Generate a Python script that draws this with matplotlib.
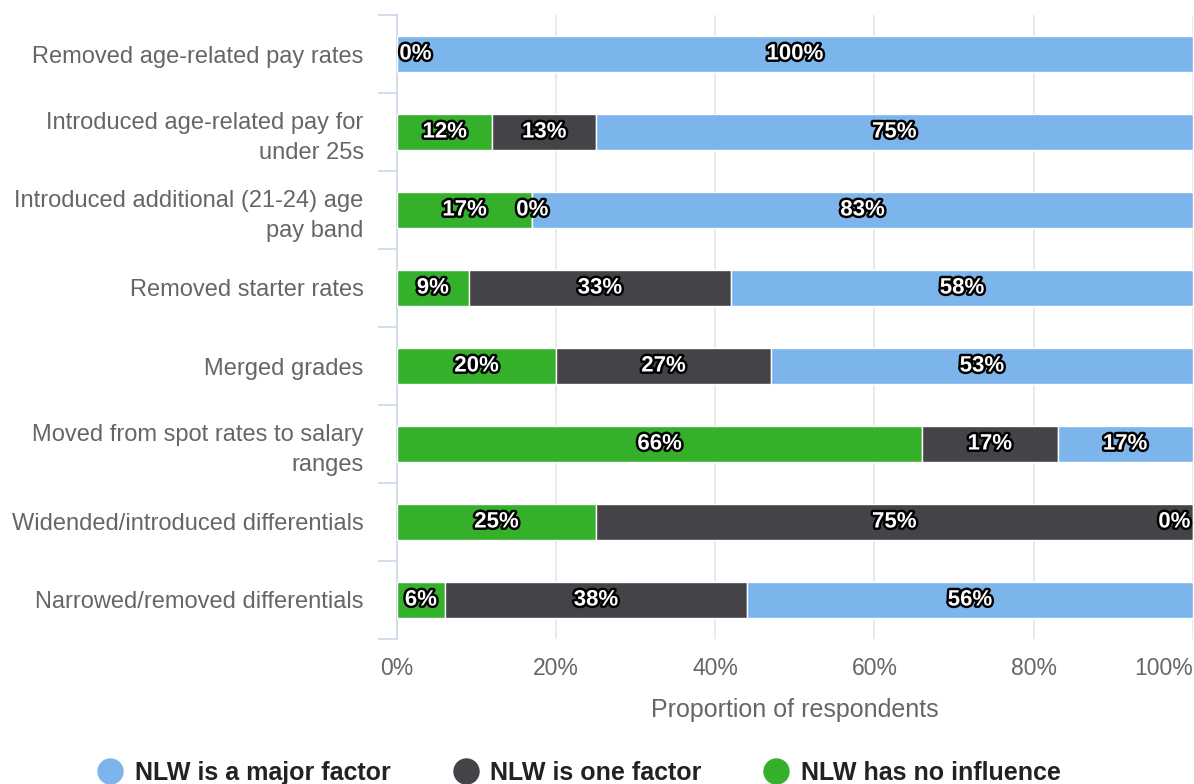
import matplotlib.pyplot as plt
import matplotlib.patheffects as pe
from matplotlib.lines import Line2D
import numpy as np

plt.rcParams['font.family'] = ['Liberation Sans', 'DejaVu Sans']

categories = [
    "Removed age-related pay rates",
    "Introduced age-related pay for\nunder 25s",
    "Introduced additional (21-24) age\npay band",
    "Removed starter rates",
    "Merged grades",
    "Moved from spot rates to salary\nranges",
    "Widended/introduced differentials",
    "Narrowed/removed differentials",
]
no_influence = [0, 12, 17, 9, 20, 66, 25, 6]
one_factor = [0, 13, 0, 33, 27, 17, 75, 38]
major_factor = [100, 75, 83, 58, 53, 17, 0, 56]

c_major = '#7cb5ec'
c_one = '#434348'
c_none = '#35b02b'
grey = '#666666'

fig = plt.figure(figsize=(11.94, 7.84), dpi=100)
ax = fig.add_axes([397 / 1194, 1 - 639 / 784, 1 - 397 / 1194 - 0.001, 624 / 784])

y = np.arange(len(categories))
series = [(no_influence, c_none), (one_factor, c_one), (major_factor, c_major)]
left = np.zeros(len(categories))
label_txt = dict(color='white', fontsize=16, fontweight='bold', va='center',
                 path_effects=[pe.withStroke(linewidth=3.5, foreground='black')],
                 zorder=5)
placed = [set() for _ in categories]
for vals, col in series:
    vals = np.array(vals, dtype=float)
    ax.barh(y, vals, left=left, height=0.46, color=col, edgecolor='white',
            linewidth=1, zorder=3)
    for i, v in enumerate(vals):
        cx = left[i] + v / 2
        # two zero-width segments at the same spot share one label
        if round(cx, 1) in placed[i] and v == 0:
            continue
        placed[i].add(round(cx, 1))
        if cx < 3:
            ax.text(0.3, i, f"{v:.0f}%", ha='left', **label_txt)
        elif cx > 97:
            ax.text(99.7, i, f"{v:.0f}%", ha='right', **label_txt)
        else:
            ax.text(cx, i, f"{v:.0f}%", ha='center', **label_txt)
    left += vals

ax.set_xlim(0, 100)
ax.set_ylim(len(categories) - 0.5, -0.5)
ax.set_xticks(range(0, 101, 20))
ax.set_xticklabels([f"{t}%" for t in range(0, 101, 20)], color=grey, fontsize=16.5)
ax.get_xticklabels()[-1].set_horizontalalignment('right')
ax.tick_params(axis='x', length=0, pad=13)
ax.set_yticks(y)
ax.set_yticklabels(categories, color=grey, fontsize=17, linespacing=1.45)
ax.set_yticks(np.arange(-0.5, len(categories), 1), minor=True)
ax.tick_params(axis='y', which='major', length=0, pad=24)
ax.tick_params(axis='y', which='minor', length=14, color='#ccd6eb', width=1.2)
ax.xaxis.grid(True, color='#e6e6e6', linewidth=1.2, zorder=0)
ax.set_axisbelow(True)
for s in ['top', 'right', 'bottom']:
    ax.spines[s].set_visible(False)
ax.spines['left'].set_color('#ccd6eb')
ax.spines['left'].set_linewidth(1.2)
ax.set_xlabel("Proportion of respondents", color=grey, fontsize=18, labelpad=13)

handles = [Line2D([], [], marker='o', linestyle='', markersize=18, color=c)
           for c in (c_major, c_one, c_none)]
fig.legend(handles, ["NLW is a major factor", "NLW is one factor", "NLW has no influence"],
           loc='center', bbox_to_anchor=(0.482, 1 - 773 / 784), ncol=3, frameon=False,
           prop={'weight': 'bold', 'size': 18}, handletextpad=0.18, columnspacing=2.2,
           handlelength=1.6, labelcolor='#222222')

fig.savefig('out.png', dpi=100)
